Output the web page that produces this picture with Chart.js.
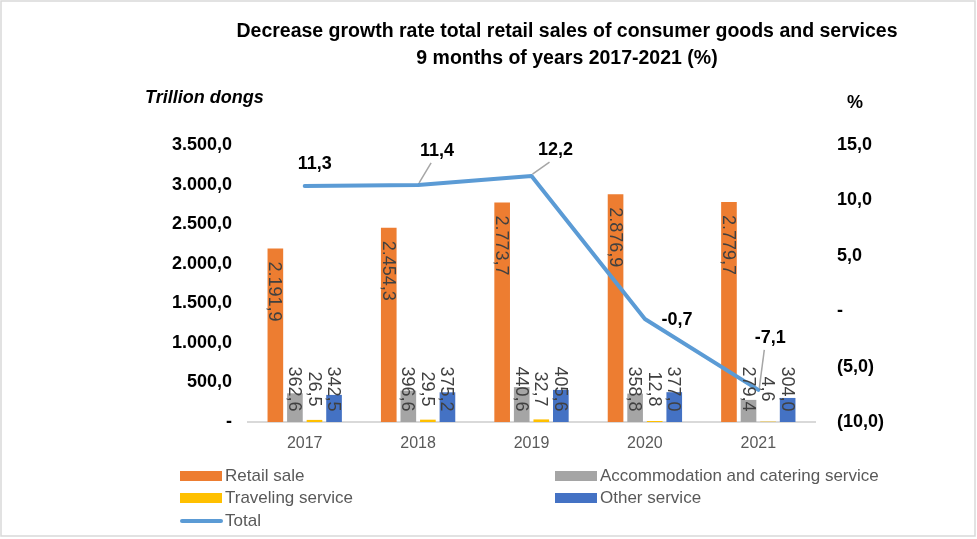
<!DOCTYPE html>
<html>
<head>
<meta charset="utf-8">
<script src="https://cdn.jsdelivr.net/npm/chart.js@4.4.0/dist/chart.umd.min.js"></script>
<style>
  body { margin: 0; background: #fff; }
  canvas { display: block; }
</style>
</head>
<body>
<canvas id="chart" width="977" height="539"></canvas>
<script>
// data
const years = ['2017', '2018', '2019', '2020', '2021'];
const retailSale = [2191.9, 2454.3, 2773.7, 2876.9, 2779.7];
const accommodation = [362.6, 396.6, 440.6, 358.8, 279.4];
const traveling = [26.5, 29.5, 32.7, 12.8, 4.6];
const otherService = [342.5, 375.2, 405.6, 377.0, 304.0];
const totalGrowth = [11.3, 11.4, 12.2, -0.7, -7.1];

const FONT = "'Liberation Sans', Arial, sans-serif";

// vietnamese style numbers: 2.191,9 ; zero as "-" ; negatives in brackets
function fmt(v) {
  if (v === 0) return '-';
  const s = Math.abs(v).toFixed(1).split('.');
  const intPart = s[0].replace(/\B(?=(\d{3})+(?!\d))/g, '.');
  const out = intPart + ',' + s[1];
  return v < 0 ? '(' + out + ')' : out;
}

// where the line labels sit relative to their point, and whether a leader line is drawn
const lineLabelPos = [
  { dx: 10, dy: -22, leader: false },
  { dx: 19, dy: -34, leader: true },
  { dx: 24, dy: -26, leader: true },
  { dx: 32, dy: 1, leader: false },
  { dx: 12, dy: -52, leader: true }
];

const textPlugin = {
  id: 'texts',
  afterDatasetsDraw(chart) {
    const ctx = chart.ctx;
    const yScale = chart.scales.y;
    const base = yScale.getPixelForValue(0);

    // bar labels, rotated
    chart.data.datasets.forEach((ds, i) => {
      if (ds.type === 'line') return;
      const meta = chart.getDatasetMeta(i);
      meta.data.forEach((bar, j) => {
        const txt = fmt(ds.data[j]);
        ctx.save();
        ctx.font = '18px ' + FONT;
        ctx.fillStyle = '#404040';
        const w = ctx.measureText(txt).width;
        let startY;
        if (base - bar.y > w + 20) startY = bar.y + 13;
        else startY = base - 33 - w / 2;
        ctx.translate(bar.x, startY);
        ctx.rotate(Math.PI / 2);
        ctx.textAlign = 'left';
        ctx.textBaseline = 'middle';
        ctx.fillText(txt, 0, 1);
        ctx.restore();
      });
    });

    // line labels
    const li = chart.data.datasets.findIndex(d => d.type === 'line');
    const lmeta = chart.getDatasetMeta(li);
    lmeta.data.forEach((pt, j) => {
      const p = lineLabelPos[j];
      const lx = pt.x + p.dx, ly = pt.y + p.dy;
      ctx.save();
      if (p.leader) {
        ctx.strokeStyle = '#A6A6A6';
        ctx.lineWidth = 1.5;
        ctx.beginPath();
        ctx.moveTo(pt.x + 1, pt.y - 2);
        ctx.lineTo(lx - 6, ly + 12);
        ctx.stroke();
      }
      ctx.font = 'bold 18px ' + FONT;
      ctx.fillStyle = '#000';
      ctx.textAlign = 'center';
      ctx.textBaseline = 'middle';
      ctx.fillText(fmt(chart.data.datasets[li].data[j]).replace(/^\((.*)\)$/, '-$1'), lx, ly);
      ctx.restore();
    });
  },
  afterDraw(chart) {
    const ctx = chart.ctx;
    ctx.save();
    // outer border
    ctx.strokeStyle = '#D9D9D9';
    ctx.lineWidth = 1.5;
    ctx.strokeRect(1, 1, 974, 535);

    // title
    ctx.fillStyle = '#000';
    ctx.textAlign = 'center';
    ctx.textBaseline = 'middle';
    ctx.font = 'bold 19.5px ' + FONT;
    ctx.fillText('Decrease growth rate total retail sales of consumer goods and services', 567, 32);
    ctx.fillText('9 months of years 2017-2021 (%)', 567, 59);

    // axis titles
    ctx.textAlign = 'left';
    ctx.font = 'italic bold 18px ' + FONT;
    ctx.fillText('Trillion dongs', 145, 98);
    ctx.font = 'bold 18px ' + FONT;
    ctx.fillText('%', 847, 103);

    // legend
    const slots = [
      { x: 180, y: 476 }, { x: 555, y: 476 },
      { x: 180, y: 498 }, { x: 555, y: 498 },
      { x: 180, y: 521 }
    ];
    ctx.font = '17px ' + FONT;
    chart.data.datasets.forEach((ds, i) => {
      const s = slots[i];
      if (ds.type === 'line') {
        ctx.strokeStyle = ds.borderColor;
        ctx.lineWidth = 4;
        ctx.lineCap = 'round';
        ctx.beginPath();
        ctx.moveTo(s.x + 2, s.y);
        ctx.lineTo(s.x + 41, s.y);
        ctx.stroke();
      } else {
        ctx.fillStyle = ds.backgroundColor;
        ctx.fillRect(s.x, s.y - 5, 42, 10);
      }
      ctx.fillStyle = '#595959';
      ctx.fillText(ds.label, s.x + 45, s.y);
    });
    ctx.restore();
  }
};

new Chart(document.getElementById('chart').getContext('2d'), {
  type: 'bar',
  data: {
    labels: years,
    datasets: [
      { label: 'Retail sale', data: retailSale, backgroundColor: '#ED7D31', yAxisID: 'y', order: 1 },
      { label: 'Accommodation and catering service', data: accommodation, backgroundColor: '#A5A5A5', yAxisID: 'y', order: 1 },
      { label: 'Traveling service', data: traveling, backgroundColor: '#FFC000', yAxisID: 'y', order: 1 },
      { label: 'Other service', data: otherService, backgroundColor: '#4472C4', yAxisID: 'y', order: 1 },
      {
        type: 'line', label: 'Total', data: totalGrowth, yAxisID: 'y1', order: 0,
        borderColor: '#5B9BD5', backgroundColor: '#5B9BD5', borderWidth: 4,
        pointRadius: 0, tension: 0, borderJoinStyle: 'round', borderCapStyle: 'round'
      }
    ]
  },
  options: {
    responsive: false,
    animation: false,
    devicePixelRatio: 1,
    categoryPercentage: 0.69,
    barPercentage: 0.8,
    layout: { padding: { top: 145, bottom: 87, left: 0, right: 0 } },
    plugins: {
      legend: { display: false },
      tooltip: { enabled: false }
    },
    scales: {
      x: {
        grid: { display: false },
        border: { display: true, color: '#D9D9D9', width: 2 },
        ticks: { color: '#595959', font: { family: FONT, size: 16 }, padding: 4 },
        afterFit(s) { s.height = 30; }
      },
      y: {
        position: 'left',
        min: 0, max: 3500,
        grid: { display: false },
        border: { display: false },
        ticks: {
          stepSize: 500, padding: 8, color: '#000',
          font: { family: FONT, size: 18, weight: 'bold' },
          callback: v => fmt(v)
        },
        afterFit(s) { s.width = 248; }
      },
      y1: {
        position: 'right',
        min: -10, max: 15,
        grid: { display: false },
        border: { display: false },
        ticks: {
          stepSize: 5, padding: 14, color: '#000',
          font: { family: FONT, size: 18, weight: 'bold' },
          callback: v => fmt(v)
        },
        afterFit(s) { s.width = 162; }
      }
    }
  },
  plugins: [textPlugin]
});
</script>
</body>
</html>
